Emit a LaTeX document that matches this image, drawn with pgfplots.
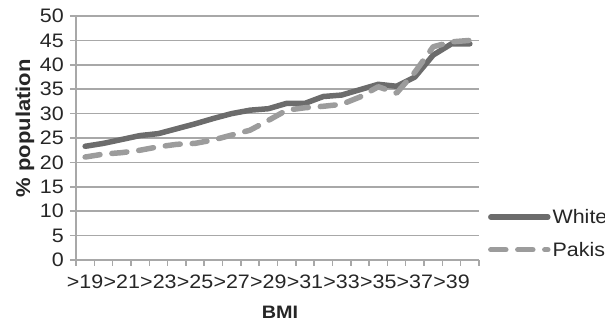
\documentclass[border=0pt]{standalone}
\usepackage{pgfplots}
\pgfplotsset{compat=1.18}
\usepackage{fontspec}
\setmainfont{Liberation Sans}[FakeStretch=1.1]
\definecolor{whiteser}{HTML}{6C6C6C}
\definecolor{pakser}{HTML}{9C9C9C}
\definecolor{gridc}{HTML}{A8A8A8}
\begin{document}
\begin{tikzpicture}
\useasboundingbox (0,0) rectangle (605pt,331pt);
\clip (0,0) rectangle (605pt,331pt);
\begin{axis}[
  at={(76pt,71pt)}, anchor=south west,
  scale only axis, width=403pt, height=244pt,
  xmin=-0.5, xmax=21.5, ymin=0, ymax=50,
  axis x line*=bottom, axis y line*=left,
  axis line style={gridc, line width=1.5pt, -},
  xtick={0,2,...,20},
  xticklabels={>19,>21,>23,>25,>27,>29,>31,>33,>35,>37,>39},
  minor xtick={-0.5,0.5,...,21.5},
  ytick={0,5,...,50},
  ymajorgrids, major grid style={gridc, line width=1.5pt},
  major x tick style={draw=none},
  minor tick length=6pt, major tick length=6pt,
  tick align=outside,
  every tick/.style={gridc, line width=1.5pt},
  minor x tick style={gridc, line width=1.5pt},
  /pgf/number format/assume math mode=true,
  ticklabel style={font=\fontsize{19.5}{22}\selectfont, text=black!85},
  xticklabel style={anchor=center, yshift=-16pt},
  yticklabel style={anchor=east, inner sep=0pt, xshift=-6pt},
  xlabel={\textbf{BMI}},
  ylabel={\textbf{\% population}},
  label style={text=black!85},
  xlabel style={font=\fontsize{18}{22}\selectfont, at={(axis description cs:0.506,-0.213)}, anchor=center},
  ylabel style={font=\fontsize{20}{22}\selectfont, at={(axis description cs:-0.1266,0.54)}, anchor=center, rotate=0},
  legend style={draw=none, fill=none, at={(axis description cs:1.022,0.109)}, anchor=west,
    font=\fontsize{19.5}{22}\selectfont, text=black!85, row sep=13pt,
    inner sep=0pt, nodes={inner sep=2pt}},
  legend cell align=left,
  legend image code/.code={\draw[#1] (0pt,0pt) -- (57pt,0pt);},
  clip=false,
]
\addplot[whiteser, line width=5.5pt, line join=round, line cap=round] coordinates {
(0,23.3) (1,23.9) (2,24.7) (3,25.5) (4,25.9) (5,26.9) (6,27.9) (7,29.0) (8,30.0) (9,30.7)
(10,31.0) (11,32.1) (12,32.1) (13,33.5) (14,33.8) (15,34.9) (16,36.0) (17,35.6) (18,37.5)
(19,42.0) (20,44.3) (21,44.3)};
\addlegendentry{White}
\addplot[pakser, line width=5.5pt, line join=round, line cap=round, dash pattern=on 15pt off 12pt] coordinates {
(0,21.1) (1,21.7) (2,22.0) (3,22.5) (4,23.2) (5,23.7) (6,23.9) (7,24.6) (8,25.6) (9,26.6)
(10,28.6) (11,30.7) (12,31.2) (13,31.5) (14,31.9) (15,33.4) (16,35.5) (17,34.2) (18,38.5)
(19,43.7) (20,44.7) (21,45.0)};
\addlegendentry{Pakistani}
\end{axis}
\end{tikzpicture}
\end{document}
